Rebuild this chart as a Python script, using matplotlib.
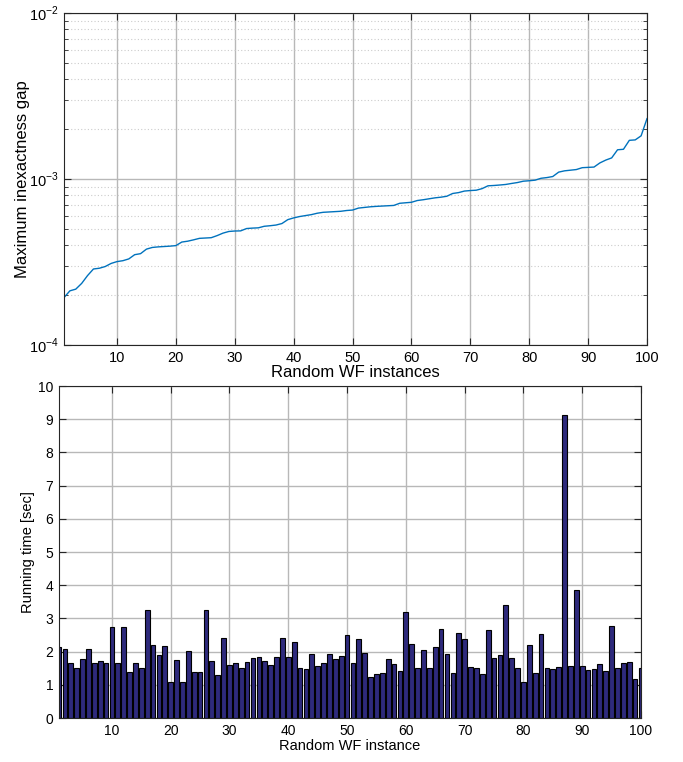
import matplotlib
matplotlib.use("Agg")
import matplotlib.pyplot as plt
from matplotlib.ticker import LogLocator, FixedLocator, NullFormatter
import numpy as np

plt.rcParams['font.family'] = ['Liberation Sans', 'DejaVu Sans']
plt.rcParams['mathtext.fontset'] = 'custom'
plt.rcParams['mathtext.rm'] = 'Liberation Sans'

# ---- data ----
instances = list(range(1, 101))
gap_values = [
    1.93e-4, 2.12e-4, 2.17e-4, 2.35e-4, 2.62e-4, 2.87e-4, 2.90e-4, 2.97e-4, 3.10e-4, 3.18e-4,
    3.22e-4, 3.30e-4, 3.50e-4, 3.55e-4, 3.78e-4, 3.87e-4, 3.90e-4, 3.92e-4, 3.94e-4, 3.97e-4,
    4.17e-4, 4.22e-4, 4.30e-4, 4.39e-4, 4.41e-4, 4.43e-4, 4.56e-4, 4.72e-4, 4.83e-4, 4.86e-4,
    4.87e-4, 5.03e-4, 5.06e-4, 5.08e-4, 5.19e-4, 5.23e-4, 5.28e-4, 5.39e-4, 5.69e-4, 5.83e-4,
    5.94e-4, 6.02e-4, 6.10e-4, 6.22e-4, 6.30e-4, 6.33e-4, 6.36e-4, 6.39e-4, 6.46e-4, 6.50e-4,
    6.68e-4, 6.74e-4, 6.80e-4, 6.84e-4, 6.87e-4, 6.90e-4, 6.93e-4, 7.14e-4, 7.19e-4, 7.24e-4,
    7.42e-4, 7.50e-4, 7.60e-4, 7.70e-4, 7.77e-4, 7.87e-4, 8.18e-4, 8.28e-4, 8.46e-4, 8.52e-4,
    8.56e-4, 8.75e-4, 9.10e-4, 9.14e-4, 9.20e-4, 9.27e-4, 9.40e-4, 9.52e-4, 9.70e-4, 9.76e-4,
    9.84e-4, 1.01e-3, 1.02e-3, 1.035e-3, 1.10e-3, 1.12e-3, 1.13e-3, 1.14e-3, 1.17e-3, 1.175e-3,
    1.18e-3, 1.25e-3, 1.30e-3, 1.34e-3, 1.50e-3, 1.51e-3, 1.71e-3, 1.72e-3, 1.82e-3, 2.31e-3,
]
run_times = [
    2.13, 2.07, 1.67, 1.52, 1.77, 2.07, 1.67, 1.71, 1.67, 2.75,
    1.67, 2.75, 1.38, 1.65, 1.50, 3.24, 2.21, 1.91, 2.18, 1.07,
    1.75, 1.09, 2.02, 1.40, 1.40, 3.24, 1.73, 1.31, 2.41, 1.61,
    1.67, 1.50, 1.70, 1.82, 1.83, 1.73, 1.60, 1.83, 2.42, 1.85,
    2.28, 1.52, 1.47, 1.94, 1.58, 1.65, 1.94, 1.77, 1.87, 2.50,
    1.67, 2.39, 1.95, 1.25, 1.34, 1.37, 1.77, 1.63, 1.43, 3.20,
    2.24, 1.52, 2.04, 1.50, 2.13, 2.68, 1.92, 1.35, 2.57, 2.37,
    1.53, 1.50, 1.33, 2.66, 1.81, 1.90, 3.39, 1.80, 1.50, 1.09,
    2.21, 1.36, 2.52, 1.51, 1.47, 1.54, 9.14, 1.57, 3.87, 1.57,
    1.45, 1.48, 1.63, 1.43, 2.76, 1.50, 1.65, 1.68, 1.18, 1.52,
]
x_ticks = [10, 20, 30, 40, 50, 60, 70, 80, 90, 100]
y_ticks_bottom = list(range(0, 11))

W, H = 683, 762
fig = plt.figure(figsize=(W / 100, H / 100), dpi=100)

grid_col = '#b8b8b8'
spine_col = '#262626'

def frac(l, t, r, b):
    return [l / W, 1 - b / H, (r - l) / W, (b - t) / H]

# ---- top axes ----
ax1 = fig.add_axes(frac(64, 13, 647, 345))
ax1.plot(instances, gap_values, color='#0072BD', lw=1.0)
ax1.set_yscale('log')
ax1.set_ylim(1e-4, 1e-2)
ax1.set_xlim(1, 100)
ax1.xaxis.set_major_locator(FixedLocator(x_ticks))
ax1.yaxis.set_major_locator(FixedLocator([1e-4, 1e-3, 1e-2]))
ax1.yaxis.set_minor_locator(LogLocator(base=10, subs=np.arange(2, 10)))
ax1.yaxis.set_minor_formatter(NullFormatter())
ax1.set_yticklabels([r'$10^{-4}$', r'$10^{-3}$', r'$10^{-2}$'])
ax1.grid(True, which='major', color=grid_col, lw=1.0, ls='-')
ax1.grid(True, which='minor', axis='y', color='#cccccc', lw=0.8, ls=(0, (1, 2)))
ax1.set_xlabel('Random WF instances', fontsize=12, labelpad=0)
ax1.set_ylabel('Maximum inexactness gap', fontsize=12, labelpad=-1)

# ---- bottom axes ----
ax2 = fig.add_axes(frac(59, 386, 641, 718))
ax2.bar(instances, run_times, width=0.8, color='#2e2a7c', edgecolor='black', lw=0.8, zorder=2)
ax2.set_xlim(1, 100)
ax2.set_ylim(0, 10)
ax2.xaxis.set_major_locator(FixedLocator(x_ticks))
ax2.yaxis.set_major_locator(FixedLocator(y_ticks_bottom))
ax2.set_axisbelow(True)
ax2.grid(True, which='major', color=grid_col, lw=1.0, ls='-')
ax2.set_xlabel('Random WF instance', fontsize=10.5, labelpad=1)
ax2.set_ylabel('Running time [sec]', fontsize=10.5, labelpad=2)

for ax, ls in ((ax1, 10.5), (ax2, 10)):
    for s in ax.spines.values():
        s.set_color(spine_col)
        s.set_linewidth(0.8)
    ax.tick_params(which='both', direction='in', top=True, right=True,
                   color=spine_col, labelsize=ls, pad=4)
    ax.tick_params(which='major', length=5)
    ax.tick_params(which='minor', length=3)

fig.savefig('out.png', dpi=100)
